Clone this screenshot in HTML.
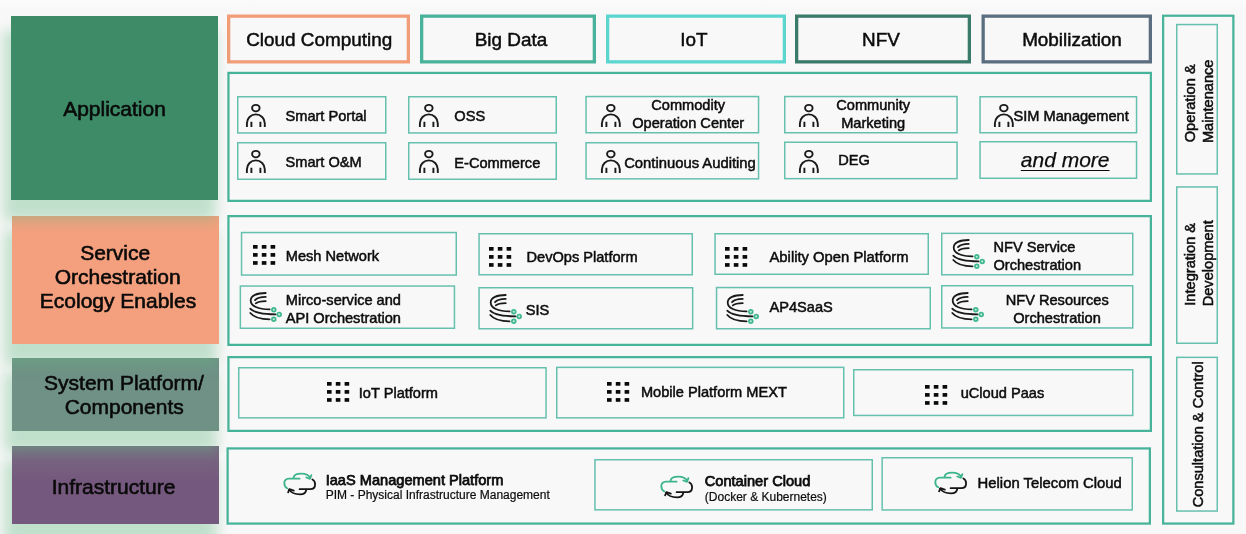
<!DOCTYPE html>
<html><head><meta charset="utf-8"><title>Architecture</title>
<style>
html,body{margin:0;padding:0;}
body{width:1246px;height:534px;overflow:hidden;background:linear-gradient(#fbfbfb 0,#f8f8f8 10px);position:relative;font-family:"Liberation Sans",sans-serif;color:#0c0c0c;}
.b{position:absolute;box-sizing:content-box;}
.L{position:absolute;}
.t{position:absolute;white-space:nowrap;line-height:1;-webkit-text-stroke:0.5px #0c0c0c;}
.c{text-align:center;}
.v{text-align:center;transform:rotate(-90deg);transform-origin:50% 50%;}
.i{position:absolute;overflow:visible;}
#w{position:absolute;left:0;top:0;width:1246px;height:534px;will-change:transform;}
</style></head><body><div id="w">
<svg class="i" style="left:0;top:0" width="1246" height="534" viewBox="0 0 1246 534" fill="none"><rect x="228.65" y="16.15" width="179.70" height="45.70" stroke="#f09d78" stroke-width="3.3"/><rect x="421.65" y="16.15" width="172.70" height="45.70" stroke="#48b39a" stroke-width="3.3"/><rect x="607.65" y="16.15" width="176.70" height="45.70" stroke="#5ad6cf" stroke-width="3.3"/><rect x="796.65" y="16.15" width="172.70" height="45.70" stroke="#3a7a68" stroke-width="3.3"/><rect x="983.15" y="16.15" width="167.20" height="45.70" stroke="#5b6e80" stroke-width="3.3"/><rect x="228.43" y="72.92" width="922.45" height="127.95" stroke="#47b39a" stroke-width="2.25"/><rect x="228.43" y="216.12" width="922.45" height="128.75" stroke="#47b39a" stroke-width="2.25"/><rect x="228.43" y="357.12" width="922.45" height="73.75" stroke="#47b39a" stroke-width="2.25"/><rect x="227.62" y="448.43" width="922.25" height="75.15" stroke="#47b39a" stroke-width="2.25"/><rect x="1163.12" y="15.72" width="70.25" height="507.85" stroke="#47b39a" stroke-width="2.25"/><rect x="237.75" y="96.75" width="148.00" height="36.20" stroke="#66c0ae" stroke-width="1.5"/><rect x="237.75" y="142.75" width="148.00" height="36.50" stroke="#66c0ae" stroke-width="1.5"/><rect x="408.75" y="96.75" width="147.50" height="36.20" stroke="#66c0ae" stroke-width="1.5"/><rect x="408.75" y="142.75" width="147.50" height="36.50" stroke="#66c0ae" stroke-width="1.5"/><rect x="586.05" y="96.55" width="172.50" height="36.20" stroke="#66c0ae" stroke-width="1.5"/><rect x="586.05" y="142.75" width="172.50" height="36.10" stroke="#66c0ae" stroke-width="1.5"/><rect x="784.75" y="96.55" width="172.30" height="36.20" stroke="#66c0ae" stroke-width="1.5"/><rect x="784.75" y="142.25" width="172.30" height="36.40" stroke="#66c0ae" stroke-width="1.5"/><rect x="980.05" y="96.75" width="156.50" height="36.00" stroke="#66c0ae" stroke-width="1.5"/><rect x="980.05" y="141.75" width="156.50" height="36.50" stroke="#66c0ae" stroke-width="1.5"/><rect x="241.55" y="232.55" width="214.70" height="42.50" stroke="#66c0ae" stroke-width="1.5"/><rect x="240.35" y="286.05" width="214.10" height="42.20" stroke="#66c0ae" stroke-width="1.5"/><rect x="479.05" y="233.75" width="213.20" height="41.00" stroke="#66c0ae" stroke-width="1.5"/><rect x="479.05" y="287.75" width="213.60" height="41.00" stroke="#66c0ae" stroke-width="1.5"/><rect x="715.05" y="233.75" width="213.20" height="40.50" stroke="#66c0ae" stroke-width="1.5"/><rect x="716.55" y="287.55" width="213.70" height="41.20" stroke="#66c0ae" stroke-width="1.5"/><rect x="941.75" y="233.35" width="191.00" height="41.40" stroke="#66c0ae" stroke-width="1.5"/><rect x="941.75" y="285.75" width="191.00" height="42.20" stroke="#66c0ae" stroke-width="1.5"/><rect x="238.75" y="367.75" width="307.30" height="50.10" stroke="#66c0ae" stroke-width="1.5"/><rect x="556.75" y="367.35" width="287.00" height="50.50" stroke="#66c0ae" stroke-width="1.5"/><rect x="853.75" y="369.75" width="279.00" height="45.70" stroke="#66c0ae" stroke-width="1.5"/><rect x="594.95" y="459.75" width="277.30" height="50.10" stroke="#66c0ae" stroke-width="1.5"/><rect x="882.15" y="457.75" width="250.10" height="52.20" stroke="#66c0ae" stroke-width="1.5"/><rect x="1176.75" y="24.55" width="40.50" height="149.40" stroke="#66c0ae" stroke-width="1.5"/><rect x="1176.75" y="186.95" width="40.50" height="156.30" stroke="#66c0ae" stroke-width="1.5"/><rect x="1176.75" y="357.35" width="40.50" height="153.70" stroke="#66c0ae" stroke-width="1.5"/></svg>
<div class="L" style="left:11px;top:16px;width:207px;height:184px;background:#3e8b68;z-index:9;box-shadow:-5px 18px 12px 3px rgba(100,185,130,0.37);"></div>
<div class="L" style="left:12px;top:216px;width:207px;height:128px;background:#f4a07e;z-index:8;box-shadow:-5px 18px 12px 3px rgba(100,185,130,0.37);"></div>
<div class="L" style="left:12px;top:358px;width:207px;height:73px;background:#6f9186;z-index:7;box-shadow:-5px 18px 12px 3px rgba(100,185,130,0.37);"></div>
<div class="L" style="left:12px;top:446px;width:207px;height:78px;background:linear-gradient(#786a81 0,#75587d 45%);z-index:6;box-shadow:-5px 18px 12px 3px rgba(100,185,130,0.37);"></div>
<div class="t c" style="left:-85.50px;width:400px;top:98px;font-size:21px;z-index:20;-webkit-text-stroke:0.6px #0a0a0a;color:#0a0a0a;">Application</div>
<div class="t c" style="left:-84.80px;width:400px;top:242px;font-size:21px;z-index:20;-webkit-text-stroke:0.6px #0a0a0a;color:#0a0a0a;">Service</div>
<div class="t c" style="left:-82.30px;width:400px;top:266px;font-size:21px;z-index:20;-webkit-text-stroke:0.6px #0a0a0a;color:#0a0a0a;">Orchestration</div>
<div class="t c" style="left:-82.00px;width:400px;top:290px;font-size:21px;z-index:20;-webkit-text-stroke:0.6px #0a0a0a;color:#0a0a0a;">Ecology Enables</div>
<div class="t c" style="left:-76.00px;width:400px;top:372px;font-size:21px;z-index:20;-webkit-text-stroke:0.6px #0a0a0a;color:#0a0a0a;">System Platform/</div>
<div class="t c" style="left:-75.80px;width:400px;top:396px;font-size:21px;z-index:20;-webkit-text-stroke:0.6px #0a0a0a;color:#0a0a0a;">Components</div>
<div class="t c" style="left:-86.40px;width:400px;top:476px;font-size:21px;z-index:20;-webkit-text-stroke:0.6px #0a0a0a;color:#0a0a0a;">Infrastructure</div>
<div class="t c" style="left:119.20px;width:400px;top:31px;font-size:18.9px;">Cloud Computing</div>
<div class="t c" style="left:311.00px;width:400px;top:31px;font-size:18.9px;">Big Data</div>
<div class="t c" style="left:494.00px;width:400px;top:31px;font-size:18.9px;">IoT</div>
<div class="t c" style="left:681.00px;width:400px;top:31px;font-size:18.9px;">NFV</div>
<div class="t c" style="left:872.00px;width:400px;top:31px;font-size:18.9px;">Mobilization</div>
<svg class="i" style="left:246.30px;top:103.90px" width="19.7" height="23.1" viewBox="0 0 19.7 23.1"><g fill="none" stroke="#1a1a1a" stroke-width="1.9"><ellipse cx="9.85" cy="4.1" rx="3.75" ry="3.25"/><path d="M0.9,23.1V19.3A8.95,8.95 0 0 1 18.8,19.3V23.1"/><path d="M5.4,17.8V23.1M14.4,17.8V23.1" stroke-width="1.9"/></g></svg>
<svg class="i" style="left:246.30px;top:149.90px" width="19.7" height="23.1" viewBox="0 0 19.7 23.1"><g fill="none" stroke="#1a1a1a" stroke-width="1.9"><ellipse cx="9.85" cy="4.1" rx="3.75" ry="3.25"/><path d="M0.9,23.1V19.3A8.95,8.95 0 0 1 18.8,19.3V23.1"/><path d="M5.4,17.8V23.1M14.4,17.8V23.1" stroke-width="1.9"/></g></svg>
<svg class="i" style="left:419.40px;top:103.90px" width="19.7" height="23.1" viewBox="0 0 19.7 23.1"><g fill="none" stroke="#1a1a1a" stroke-width="1.9"><ellipse cx="9.85" cy="4.1" rx="3.75" ry="3.25"/><path d="M0.9,23.1V19.3A8.95,8.95 0 0 1 18.8,19.3V23.1"/><path d="M5.4,17.8V23.1M14.4,17.8V23.1" stroke-width="1.9"/></g></svg>
<svg class="i" style="left:419.40px;top:149.90px" width="19.7" height="23.1" viewBox="0 0 19.7 23.1"><g fill="none" stroke="#1a1a1a" stroke-width="1.9"><ellipse cx="9.85" cy="4.1" rx="3.75" ry="3.25"/><path d="M0.9,23.1V19.3A8.95,8.95 0 0 1 18.8,19.3V23.1"/><path d="M5.4,17.8V23.1M14.4,17.8V23.1" stroke-width="1.9"/></g></svg>
<svg class="i" style="left:601.00px;top:103.90px" width="19.7" height="23.1" viewBox="0 0 19.7 23.1"><g fill="none" stroke="#1a1a1a" stroke-width="1.9"><ellipse cx="9.85" cy="4.1" rx="3.75" ry="3.25"/><path d="M0.9,23.1V19.3A8.95,8.95 0 0 1 18.8,19.3V23.1"/><path d="M5.4,17.8V23.1M14.4,17.8V23.1" stroke-width="1.9"/></g></svg>
<svg class="i" style="left:601.00px;top:149.90px" width="19.7" height="23.1" viewBox="0 0 19.7 23.1"><g fill="none" stroke="#1a1a1a" stroke-width="1.9"><ellipse cx="9.85" cy="4.1" rx="3.75" ry="3.25"/><path d="M0.9,23.1V19.3A8.95,8.95 0 0 1 18.8,19.3V23.1"/><path d="M5.4,17.8V23.1M14.4,17.8V23.1" stroke-width="1.9"/></g></svg>
<svg class="i" style="left:798.60px;top:103.90px" width="19.7" height="23.1" viewBox="0 0 19.7 23.1"><g fill="none" stroke="#1a1a1a" stroke-width="1.9"><ellipse cx="9.85" cy="4.1" rx="3.75" ry="3.25"/><path d="M0.9,23.1V19.3A8.95,8.95 0 0 1 18.8,19.3V23.1"/><path d="M5.4,17.8V23.1M14.4,17.8V23.1" stroke-width="1.9"/></g></svg>
<svg class="i" style="left:798.60px;top:149.90px" width="19.7" height="23.1" viewBox="0 0 19.7 23.1"><g fill="none" stroke="#1a1a1a" stroke-width="1.9"><ellipse cx="9.85" cy="4.1" rx="3.75" ry="3.25"/><path d="M0.9,23.1V19.3A8.95,8.95 0 0 1 18.8,19.3V23.1"/><path d="M5.4,17.8V23.1M14.4,17.8V23.1" stroke-width="1.9"/></g></svg>
<svg class="i" style="left:994.40px;top:103.90px" width="19.7" height="23.1" viewBox="0 0 19.7 23.1"><g fill="none" stroke="#1a1a1a" stroke-width="1.9"><ellipse cx="9.85" cy="4.1" rx="3.75" ry="3.25"/><path d="M0.9,23.1V19.3A8.95,8.95 0 0 1 18.8,19.3V23.1"/><path d="M5.4,17.8V23.1M14.4,17.8V23.1" stroke-width="1.9"/></g></svg>
<div class="t" style="left:285.50px;top:109px;font-size:14.6px;">Smart Portal</div>
<div class="t" style="left:285.50px;top:155px;font-size:14.6px;">Smart O&amp;M</div>
<div class="t" style="left:454.30px;top:109px;font-size:14.6px;">OSS</div>
<div class="t" style="left:454.30px;top:156px;font-size:14.6px;">E-Commerce</div>
<div class="t c" style="left:488.20px;width:400px;top:98px;font-size:14.6px;">Commodity</div>
<div class="t c" style="left:488.20px;width:400px;top:116px;font-size:14.6px;">Operation Center</div>
<div class="t" style="left:624.20px;top:156px;font-size:14.8px;">Continuous Auditing</div>
<div class="t c" style="left:673.20px;width:400px;top:98px;font-size:14.6px;">Community</div>
<div class="t c" style="left:673.20px;width:400px;top:116px;font-size:14.6px;">Marketing</div>
<div class="t" style="left:838.30px;top:153px;font-size:14.6px;">DEG</div>
<div class="t" style="left:1013.50px;top:109px;font-size:14.6px;">SIM Management</div>
<div class="t c" style="left:865.20px;width:400px;top:149px;font-size:21px;font-style:italic;text-decoration:underline;text-decoration-thickness:1.3px;text-underline-offset:2.5px;-webkit-text-stroke:0.25px #0c0c0c;">and more</div>
<svg class="i" style="left:253.20px;top:245.30px" width="22.4" height="19.9" viewBox="0 0 22.4 19.9" fill="#0a0a0a"><rect x="0.00" y="0.00" width="4.6" height="3.7"/><rect x="0.00" y="8.05" width="4.6" height="3.7"/><rect x="0.00" y="16.10" width="4.6" height="3.7"/><rect x="8.80" y="0.00" width="4.6" height="3.7"/><rect x="8.80" y="8.05" width="4.6" height="3.7"/><rect x="8.80" y="16.10" width="4.6" height="3.7"/><rect x="17.60" y="0.00" width="4.6" height="3.7"/><rect x="17.60" y="8.05" width="4.6" height="3.7"/><rect x="17.60" y="16.10" width="4.6" height="3.7"/></svg>
<div class="t" style="left:285.80px;top:249px;font-size:14.6px;">Mesh Network</div>
<svg class="i" style="left:248.50px;top:291.00px" width="34" height="32" viewBox="0 0 34 32"><g fill="none" stroke="#1a1a1a" stroke-width="1.8" stroke-linecap="round"><path d="M16.7,2C8,2 1.7,4.5 1.7,9.5C1.7,15 9,18.4 20.6,18.4"/><path d="M16.7,5.9C11,6 7.5,7.5 6,9.2"/><path d="M16.7,10.2C12,10.3 8.5,11 6.8,12.4"/><path d="M1.3,17.7C5,21.5 12,23.4 26.6,23.4"/><path d="M1.3,22C5,26.5 11,28.3 20.6,28.3"/></g><g fill="#bfe9d9" stroke="#3fb88f" stroke-width="1.7"><circle cx="24.8" cy="18.7" r="1.9"/><circle cx="30.2" cy="23.4" r="1.9"/><circle cx="24.8" cy="28.3" r="1.9"/></g></svg>
<div class="t" style="left:285.80px;top:293px;font-size:14.6px;">Mirco-service and</div>
<div class="t" style="left:285.80px;top:311px;font-size:14.6px;">API Orchestration</div>
<svg class="i" style="left:489.10px;top:246.90px" width="22.4" height="19.9" viewBox="0 0 22.4 19.9" fill="#0a0a0a"><rect x="0.00" y="0.00" width="4.6" height="3.7"/><rect x="0.00" y="8.05" width="4.6" height="3.7"/><rect x="0.00" y="16.10" width="4.6" height="3.7"/><rect x="8.80" y="0.00" width="4.6" height="3.7"/><rect x="8.80" y="8.05" width="4.6" height="3.7"/><rect x="8.80" y="16.10" width="4.6" height="3.7"/><rect x="17.60" y="0.00" width="4.6" height="3.7"/><rect x="17.60" y="8.05" width="4.6" height="3.7"/><rect x="17.60" y="16.10" width="4.6" height="3.7"/></svg>
<div class="t" style="left:526.50px;top:250px;font-size:14.6px;">DevOps Platform</div>
<svg class="i" style="left:489.10px;top:293.00px" width="34" height="32" viewBox="0 0 34 32"><g fill="none" stroke="#1a1a1a" stroke-width="1.8" stroke-linecap="round"><path d="M16.7,2C8,2 1.7,4.5 1.7,9.5C1.7,15 9,18.4 20.6,18.4"/><path d="M16.7,5.9C11,6 7.5,7.5 6,9.2"/><path d="M16.7,10.2C12,10.3 8.5,11 6.8,12.4"/><path d="M1.3,17.7C5,21.5 12,23.4 26.6,23.4"/><path d="M1.3,22C5,26.5 11,28.3 20.6,28.3"/></g><g fill="#bfe9d9" stroke="#3fb88f" stroke-width="1.7"><circle cx="24.8" cy="18.7" r="1.9"/><circle cx="30.2" cy="23.4" r="1.9"/><circle cx="24.8" cy="28.3" r="1.9"/></g></svg>
<div class="t" style="left:525.80px;top:303px;font-size:14.6px;">SIS</div>
<svg class="i" style="left:725.20px;top:246.50px" width="22.4" height="19.9" viewBox="0 0 22.4 19.9" fill="#0a0a0a"><rect x="0.00" y="0.00" width="4.6" height="3.7"/><rect x="0.00" y="8.05" width="4.6" height="3.7"/><rect x="0.00" y="16.10" width="4.6" height="3.7"/><rect x="8.80" y="0.00" width="4.6" height="3.7"/><rect x="8.80" y="8.05" width="4.6" height="3.7"/><rect x="8.80" y="16.10" width="4.6" height="3.7"/><rect x="17.60" y="0.00" width="4.6" height="3.7"/><rect x="17.60" y="8.05" width="4.6" height="3.7"/><rect x="17.60" y="16.10" width="4.6" height="3.7"/></svg>
<div class="t" style="left:769.50px;top:250px;font-size:14.8px;">Ability Open Platform</div>
<svg class="i" style="left:725.90px;top:293.00px" width="34" height="32" viewBox="0 0 34 32"><g fill="none" stroke="#1a1a1a" stroke-width="1.8" stroke-linecap="round"><path d="M16.7,2C8,2 1.7,4.5 1.7,9.5C1.7,15 9,18.4 20.6,18.4"/><path d="M16.7,5.9C11,6 7.5,7.5 6,9.2"/><path d="M16.7,10.2C12,10.3 8.5,11 6.8,12.4"/><path d="M1.3,17.7C5,21.5 12,23.4 26.6,23.4"/><path d="M1.3,22C5,26.5 11,28.3 20.6,28.3"/></g><g fill="#bfe9d9" stroke="#3fb88f" stroke-width="1.7"><circle cx="24.8" cy="18.7" r="1.9"/><circle cx="30.2" cy="23.4" r="1.9"/><circle cx="24.8" cy="28.3" r="1.9"/></g></svg>
<div class="t" style="left:769.50px;top:300px;font-size:14.6px;">AP4SaaS</div>
<svg class="i" style="left:951.80px;top:238.40px" width="34" height="32" viewBox="0 0 34 32"><g fill="none" stroke="#1a1a1a" stroke-width="1.8" stroke-linecap="round"><path d="M16.7,2C8,2 1.7,4.5 1.7,9.5C1.7,15 9,18.4 20.6,18.4"/><path d="M16.7,5.9C11,6 7.5,7.5 6,9.2"/><path d="M16.7,10.2C12,10.3 8.5,11 6.8,12.4"/><path d="M1.3,17.7C5,21.5 12,23.4 26.6,23.4"/><path d="M1.3,22C5,26.5 11,28.3 20.6,28.3"/></g><g fill="#bfe9d9" stroke="#3fb88f" stroke-width="1.7"><circle cx="24.8" cy="18.7" r="1.9"/><circle cx="30.2" cy="23.4" r="1.9"/><circle cx="24.8" cy="28.3" r="1.9"/></g></svg>
<div class="t" style="left:993.50px;top:240px;font-size:14.6px;">NFV Service</div>
<div class="t" style="left:993.50px;top:258px;font-size:14.6px;">Orchestration</div>
<svg class="i" style="left:950.50px;top:291.00px" width="34" height="32" viewBox="0 0 34 32"><g fill="none" stroke="#1a1a1a" stroke-width="1.8" stroke-linecap="round"><path d="M16.7,2C8,2 1.7,4.5 1.7,9.5C1.7,15 9,18.4 20.6,18.4"/><path d="M16.7,5.9C11,6 7.5,7.5 6,9.2"/><path d="M16.7,10.2C12,10.3 8.5,11 6.8,12.4"/><path d="M1.3,17.7C5,21.5 12,23.4 26.6,23.4"/><path d="M1.3,22C5,26.5 11,28.3 20.6,28.3"/></g><g fill="#bfe9d9" stroke="#3fb88f" stroke-width="1.7"><circle cx="24.8" cy="18.7" r="1.9"/><circle cx="30.2" cy="23.4" r="1.9"/><circle cx="24.8" cy="28.3" r="1.9"/></g></svg>
<div class="t c" style="left:857.20px;width:400px;top:293px;font-size:14.6px;">NFV Resources</div>
<div class="t c" style="left:857.00px;width:400px;top:311px;font-size:14.6px;">Orchestration</div>
<svg class="i" style="left:327.30px;top:382.20px" width="22.4" height="19.9" viewBox="0 0 22.4 19.9" fill="#0a0a0a"><rect x="0.00" y="0.00" width="4.6" height="3.7"/><rect x="0.00" y="8.05" width="4.6" height="3.7"/><rect x="0.00" y="16.10" width="4.6" height="3.7"/><rect x="8.80" y="0.00" width="4.6" height="3.7"/><rect x="8.80" y="8.05" width="4.6" height="3.7"/><rect x="8.80" y="16.10" width="4.6" height="3.7"/><rect x="17.60" y="0.00" width="4.6" height="3.7"/><rect x="17.60" y="8.05" width="4.6" height="3.7"/><rect x="17.60" y="16.10" width="4.6" height="3.7"/></svg>
<div class="t" style="left:358.80px;top:386px;font-size:14.6px;">IoT Platform</div>
<svg class="i" style="left:606.90px;top:382.20px" width="22.4" height="19.9" viewBox="0 0 22.4 19.9" fill="#0a0a0a"><rect x="0.00" y="0.00" width="4.6" height="3.7"/><rect x="0.00" y="8.05" width="4.6" height="3.7"/><rect x="0.00" y="16.10" width="4.6" height="3.7"/><rect x="8.80" y="0.00" width="4.6" height="3.7"/><rect x="8.80" y="8.05" width="4.6" height="3.7"/><rect x="8.80" y="16.10" width="4.6" height="3.7"/><rect x="17.60" y="0.00" width="4.6" height="3.7"/><rect x="17.60" y="8.05" width="4.6" height="3.7"/><rect x="17.60" y="16.10" width="4.6" height="3.7"/></svg>
<div class="t" style="left:640.90px;top:385px;font-size:14.6px;">Mobile Platform MEXT</div>
<svg class="i" style="left:924.70px;top:384.80px" width="22.4" height="19.9" viewBox="0 0 22.4 19.9" fill="#0a0a0a"><rect x="0.00" y="0.00" width="4.6" height="3.7"/><rect x="0.00" y="8.05" width="4.6" height="3.7"/><rect x="0.00" y="16.10" width="4.6" height="3.7"/><rect x="8.80" y="0.00" width="4.6" height="3.7"/><rect x="8.80" y="8.05" width="4.6" height="3.7"/><rect x="8.80" y="16.10" width="4.6" height="3.7"/><rect x="17.60" y="0.00" width="4.6" height="3.7"/><rect x="17.60" y="8.05" width="4.6" height="3.7"/><rect x="17.60" y="16.10" width="4.6" height="3.7"/></svg>
<div class="t" style="left:960.70px;top:386px;font-size:14.6px;">uCloud Paas</div>
<svg class="i" style="left:283.00px;top:472.40px" width="34" height="24" viewBox="0 0 34 24"><g fill="none" stroke-width="1.8" stroke-linecap="round" stroke-linejoin="round"><g stroke="#3cb48c"><path d="M16.6,6.7H6C2.5,6.7 1.3,9 1.3,11C1.3,13.5 2.5,15.5 4.2,16.3"/><path d="M10.5,5.8C10.8,3.2 13.5,1.6 18.2,1.6C22.8,1.6 25.9,3.2 27.3,6.1"/><path d="M23.3,5.5L27,6.8L28.4,3.1"/></g><g stroke="#151515"><path d="M29.4,7.5C31.5,8.5 32.1,10.5 32.1,12.2C32.1,15.5 30,17.2 27.3,17.2H16.6"/><path d="M23.3,17.6C23,20.5 20.5,22.3 17,22.3C13,22.3 8.5,21.5 6.1,17.6"/><path d="M5.1,20.3L6.5,17.2L10.8,18.6"/></g></g></svg>
<div class="t" style="left:325.70px;top:473px;font-size:14.6px;-webkit-text-stroke:0.75px #0c0c0c;">IaaS Management Platform</div>
<div class="t" style="left:325.70px;top:489px;font-size:12px;-webkit-text-stroke:0.2px #0c0c0c;">PIM - Physical Infrastructure Management</div>
<svg class="i" style="left:660.00px;top:475.00px" width="34" height="24" viewBox="0 0 34 24"><g fill="none" stroke-width="1.8" stroke-linecap="round" stroke-linejoin="round"><g stroke="#3cb48c"><path d="M16.6,6.7H6C2.5,6.7 1.3,9 1.3,11C1.3,13.5 2.5,15.5 4.2,16.3"/><path d="M10.5,5.8C10.8,3.2 13.5,1.6 18.2,1.6C22.8,1.6 25.9,3.2 27.3,6.1"/><path d="M23.3,5.5L27,6.8L28.4,3.1"/></g><g stroke="#151515"><path d="M29.4,7.5C31.5,8.5 32.1,10.5 32.1,12.2C32.1,15.5 30,17.2 27.3,17.2H16.6"/><path d="M23.3,17.6C23,20.5 20.5,22.3 17,22.3C13,22.3 8.5,21.5 6.1,17.6"/><path d="M5.1,20.3L6.5,17.2L10.8,18.6"/></g></g></svg>
<div class="t" style="left:704.80px;top:474px;font-size:14.6px;-webkit-text-stroke:0.75px #0c0c0c;">Container Cloud</div>
<div class="t" style="left:704.80px;top:491px;font-size:12px;-webkit-text-stroke:0.2px #0c0c0c;">(Docker &amp; Kubernetes)</div>
<svg class="i" style="left:934.00px;top:471.00px" width="34" height="24" viewBox="0 0 34 24"><g fill="none" stroke-width="1.8" stroke-linecap="round" stroke-linejoin="round"><g stroke="#3cb48c"><path d="M16.6,6.7H6C2.5,6.7 1.3,9 1.3,11C1.3,13.5 2.5,15.5 4.2,16.3"/><path d="M10.5,5.8C10.8,3.2 13.5,1.6 18.2,1.6C22.8,1.6 25.9,3.2 27.3,6.1"/><path d="M23.3,5.5L27,6.8L28.4,3.1"/></g><g stroke="#151515"><path d="M29.4,7.5C31.5,8.5 32.1,10.5 32.1,12.2C32.1,15.5 30,17.2 27.3,17.2H16.6"/><path d="M23.3,17.6C23,20.5 20.5,22.3 17,22.3C13,22.3 8.5,21.5 6.1,17.6"/><path d="M5.1,20.3L6.5,17.2L10.8,18.6"/></g></g></svg>
<div class="t" style="left:977.60px;top:476px;font-size:14.85px;">Helion Telecom Cloud</div>
<div class="t v" style="left:1090.30px;top:95.50px;width:200px;font-size:14.6px;">Operation &amp;</div>
<div class="t v" style="left:1107.80px;top:93.80px;width:200px;font-size:14.6px;">Maintenance</div>
<div class="t v" style="left:1090.30px;top:257.40px;width:200px;font-size:14.6px;">Integration &amp;</div>
<div class="t v" style="left:1107.80px;top:256.20px;width:200px;font-size:14.6px;">Development</div>
<div class="t v" style="left:1097.70px;top:427.00px;width:200px;font-size:14.6px;">Consultation &amp; Control</div>
</div></body></html>
